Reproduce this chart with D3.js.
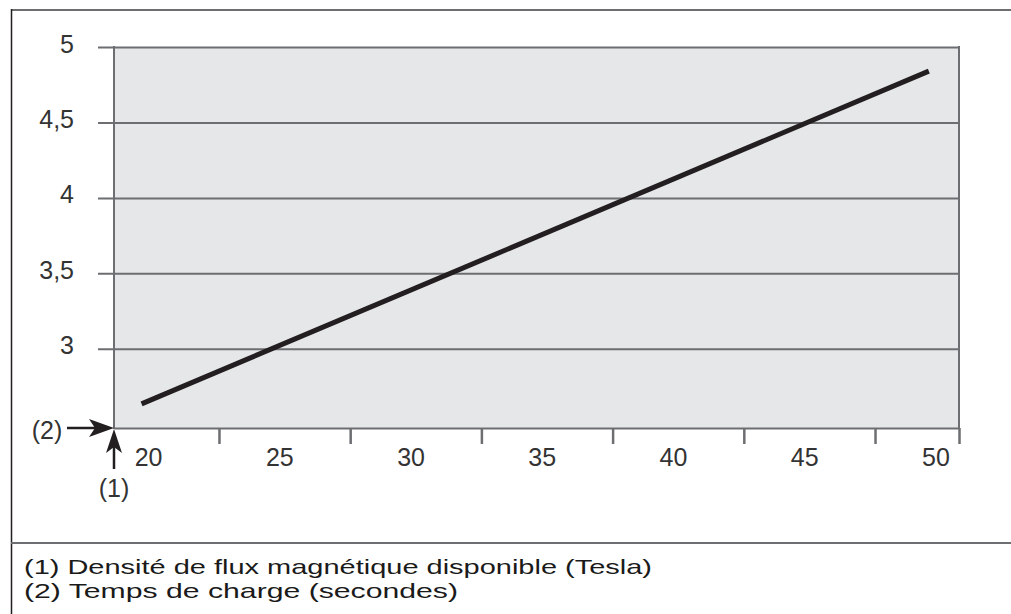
<!DOCTYPE html>
<html>
<head>
<meta charset="utf-8">
<script src="https://cdn.jsdelivr.net/npm/d3@7"></script>
<style>
  body { margin: 0; background: #fff; }
  .tick text { font-family: "Liberation Sans", Arial, sans-serif; }
</style>
</head>
<body>
<script>
// chart values
var xValues = [19.75, 49.75];          // charging time (s)
var yValues = [2.635, 4.84];           // flux density (T)
var xTickValues = [20, 25, 30, 35, 40, 45, 50];
var xTickLabels = ["20", "25", "30", "35", "40", "45", "50"];
var xTickMarks = [22.7, 27.7, 32.7, 37.7, 42.7, 47.7, 50.9];
var yTickValues = [3, 3.5, 4, 4.5, 5];
var yTickLabels = ["3", "3,5", "4", "4,5", "5"];
var xDomain = [18.7, 50.9];
var yDomain = [2.475, 5];
var legendLines = [
    "(1) Densité de flux magnétique disponible (Tesla)",
    "(2) Temps de charge (secondes)"
];

var width = 1011, height = 614;
var plotLeft = 114, plotRight = 959, plotTop = 47, plotBottom = 428;
var legendWidths = [628, 434];
var axisColor = "#6d6e71", lineColor = "#231f20";

var svg = d3.select("body").append("svg")
    .attr("width", width)
    .attr("height", height);

// outer frame
svg.append("line").attr("x1", 11).attr("x2", width).attr("y1", 10).attr("y2", 10)
    .attr("stroke", axisColor).attr("stroke-width", 2);
svg.append("line").attr("x1", 11.5).attr("x2", 11.5).attr("y1", 9).attr("y2", height)
    .attr("stroke", lineColor).attr("stroke-width", 1.5);
svg.append("line").attr("x1", 11).attr("x2", width).attr("y1", 543).attr("y2", 543)
    .attr("stroke", axisColor).attr("stroke-width", 2);

var xScale = d3.scaleLinear().domain(xDomain).range([plotLeft, plotRight]);
var yScale = d3.scaleLinear().domain(yDomain).range([plotBottom, plotTop]);

// plot background
svg.append("rect")
    .attr("x", plotLeft).attr("y", plotTop)
    .attr("width", plotRight - plotLeft).attr("height", plotBottom - plotTop)
    .attr("fill", "#e6e7e8");

// y axis with gridlines
var yAxis = d3.axisLeft(yScale)
    .tickValues(yTickValues)
    .tickSize(16)
    .tickFormat(function (d, i) { return yTickLabels[i]; });

var gy = svg.append("g")
    .attr("transform", "translate(" + plotLeft + ",0)")
    .call(yAxis);
gy.select(".domain").remove();
gy.selectAll(".tick line")
    .attr("x1", -16).attr("x2", plotRight - plotLeft)
    .attr("stroke", axisColor).attr("stroke-width", 2);
gy.selectAll(".tick text")
    .attr("x", -40)
    .attr("dy", "0.2em")
    .attr("fill", "#333")
    .style("font-size", "25px");

// plot border (left, right)
svg.append("line").attr("x1", plotLeft).attr("x2", plotLeft).attr("y1", plotTop - 1).attr("y2", plotBottom + 1)
    .attr("stroke", axisColor).attr("stroke-width", 2);
svg.append("line").attr("x1", plotRight).attr("x2", plotRight).attr("y1", plotTop - 1).attr("y2", plotBottom + 1)
    .attr("stroke", axisColor).attr("stroke-width", 2);

// x axis: tick marks
var xAxisMarks = d3.axisBottom(xScale)
    .tickValues(xTickMarks)
    .tickSize(16)
    .tickSizeOuter(0)
    .tickFormat("");
var gxm = svg.append("g")
    .attr("transform", "translate(0," + plotBottom + ")")
    .call(xAxisMarks);
gxm.select(".domain").attr("stroke", axisColor).attr("stroke-width", 2);
gxm.selectAll(".tick line").attr("stroke", axisColor).attr("stroke-width", 2.5);

// x axis: labels
var xAxisLabels = d3.axisBottom(xScale)
    .tickValues(xTickValues)
    .tickSize(0)
    .tickFormat(function (d, i) { return xTickLabels[i]; });
var gxl = svg.append("g")
    .attr("transform", "translate(0," + plotBottom + ")")
    .call(xAxisLabels);
gxl.select(".domain").remove();
gxl.selectAll(".tick text")
    .attr("y", 29)
    .attr("dy", "0.35em")
    .attr("fill", "#333")
    .style("font-size", "25px");

// data line
var line = d3.line()
    .x(function (d) { return xScale(d[0]); })
    .y(function (d) { return yScale(d[1]); });
svg.append("path")
    .datum(d3.zip(xValues, yValues))
    .attr("d", line)
    .attr("fill", "none")
    .attr("stroke", lineColor)
    .attr("stroke-width", 5);

// arrows marking the axes
var ox = xScale(xDomain[0]), oy = yScale(yDomain[0]);
svg.append("line").attr("x1", 67).attr("x2", ox - 18).attr("y1", oy).attr("y2", oy)
    .attr("stroke", lineColor).attr("stroke-width", 2.5);
svg.append("path")
    .attr("d", "M" + ox + "," + oy + "L" + (ox - 25) + "," + (oy - 9) + "L" + (ox - 19) + "," + oy +
        "L" + (ox - 25) + "," + (oy + 9) + "Z")
    .attr("fill", lineColor);
svg.append("line").attr("x1", ox).attr("x2", ox).attr("y1", 469).attr("y2", oy + 18)
    .attr("stroke", lineColor).attr("stroke-width", 2.5);
svg.append("path")
    .attr("d", "M" + ox + "," + (oy + 1) + "L" + (ox - 8) + "," + (oy + 25) + "L" + ox + "," + (oy + 19) +
        "L" + (ox + 8) + "," + (oy + 25) + "Z")
    .attr("fill", lineColor);

svg.append("text")
    .attr("x", 47).attr("y", oy + 2)
    .attr("dy", "0.35em")
    .attr("text-anchor", "middle")
    .attr("fill", "#333")
    .style("font-family", "'Liberation Sans', Arial, sans-serif")
    .style("font-size", "25px")
    .text("(2)");
svg.append("text")
    .attr("x", ox).attr("y", 488)
    .attr("dy", "0.35em")
    .attr("text-anchor", "middle")
    .attr("fill", "#333")
    .style("font-family", "'Liberation Sans', Arial, sans-serif")
    .style("font-size", "25px")
    .text("(1)");

// legend below the chart
svg.selectAll(".legend")
    .data(legendLines)
    .enter().append("text")
    .attr("class", "legend")
    .attr("x", 24)
    .attr("y", function (d, i) { return 574 + i * 24; })
    .attr("textLength", function (d, i) { return legendWidths[i]; })
    .attr("lengthAdjust", "spacingAndGlyphs")
    .attr("fill", "#1a1a1a")
    .style("font-family", "'Liberation Sans', Arial, sans-serif")
    .style("font-size", "21px")
    .text(function (d) { return d; });
</script>
</body>
</html>
